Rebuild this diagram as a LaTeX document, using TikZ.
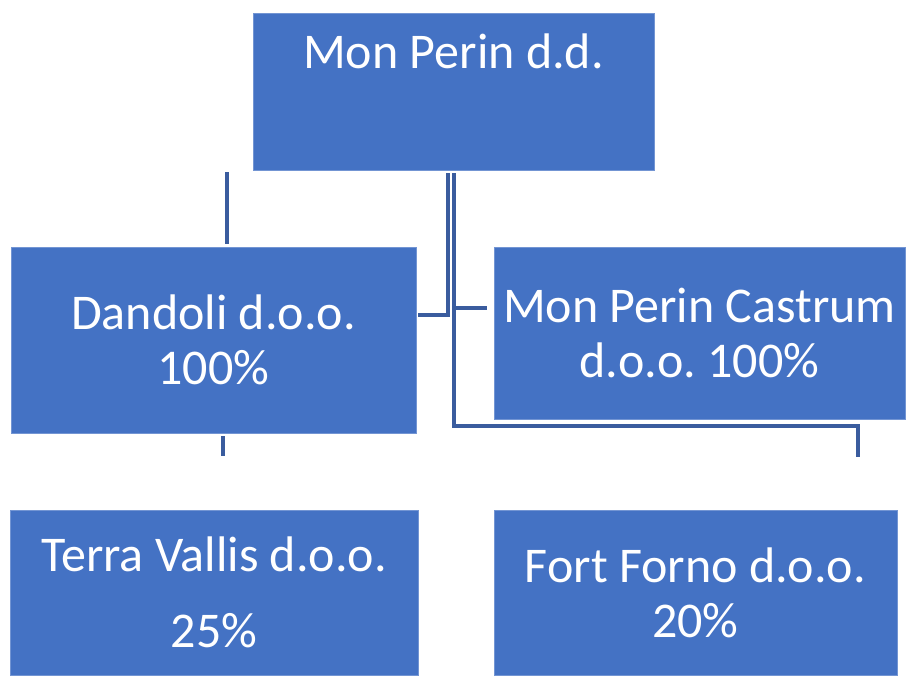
\documentclass[tikz,border=0pt]{standalone}
\usepackage{fontspec}
\setmainfont{Carlito}
\usetikzlibrary{fit}
\definecolor{boxblue}{HTML}{4472C4}
\definecolor{lineblue}{HTML}{3A5C9E}
\frenchspacing

\begin{document}
\begin{tikzpicture}[x=0.75pt, y=-0.75pt,
		firm/.style={fill=boxblue, draw=boxblue!75!white, line width=0.4pt, inner sep=0pt},
		firmname/.style={text=white, align=center, font=\fontsize{37.5pt}{41.25pt}\selectfont},
		link/.style={draw=lineblue, line width=2.5pt, line join=miter}]
	\useasboundingbox (0,0) rectangle (906,675);

	\node[firm, fit={(253,13) (654,170)}] (monperin) {};
	\node[firm, fit={(11,247) (416,433)}] (dandoli) {};
	\node[firm, fit={(494,247) (905,419)}] (castrum) {};
	\node[firm, fit={(10,510) (418,675)}] (terravallis) {};
	\node[firm, fit={(494,510) (897,675)}] (fortforno) {};

	\node[firmname, anchor=base] (monperintxt) at (453.5,68) {Mon Perin d.d.};
	\node[firmname] (dandolitxt) at (dandoli.center) {Dandoli d.o.o.\\100\%};
	\node[firmname] (castrumtxt) at (castrum.center) {Mon Perin Castrum\\d.o.o. 100\%};
	\node[firmname] (terravallistxt) at (terravallis.center) {Terra Vallis d.o.o.\\[15.75pt]25\%};
	\node[firmname] (fortfornotxt) at (fortforno.center) {Fort Forno d.o.o.\\20\%};

	\coordinate (d1) at (227,172); \coordinate (d2) at (227,244); % iznad Dandoli
	\coordinate (a1) at (448,173); \coordinate (a2) at (418,315); % do Dandoli
	\coordinate (b1) at (454,173); \coordinate (b3) at (858,426); \coordinate (b2) at (858,457); % do Fort Forno
	\coordinate (c1) at (454,308); \coordinate (c2) at (487,308); % do Castrum
	\coordinate (e1) at (223,436); \coordinate (e2) at (223,456); % ispod Dandoli

	\draw[link] (d1) -- (d2);
	\draw[link] (a1) |- (a2);
	\draw[link] (b1) |- (b3) -- (b2);
	\draw[link] (c1) -- (c2);
	\draw[link] (e1) -- (e2);
\end{tikzpicture}
\end{document}
